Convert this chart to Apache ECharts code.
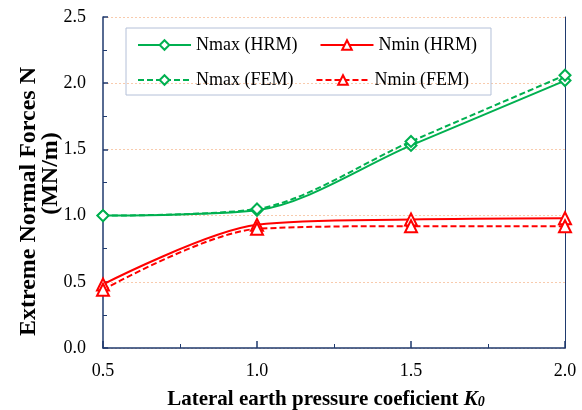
<!DOCTYPE html>
<html>
<head>
<meta charset="utf-8">
<script src="https://cdn.jsdelivr.net/npm/echarts@6/dist/echarts.min.js"></script>
<style>
  html, body { margin: 0; padding: 0; background: #fff; }
  #chart { width: 582px; height: 410px; }
</style>
</head>
<body>
<div id="chart"></div>
<script>
// lateral earth pressure coefficient K0
var k0 = [0.5, 1.0, 1.5, 2.0];
var nmaxHRM = [1.00, 1.04, 1.53, 2.02];
var nmaxFEM = [1.00, 1.05, 1.56, 2.06];
var nminHRM = [0.48, 0.93, 0.97, 0.98];
var nminFEM = [0.44, 0.90, 0.92, 0.92];
var yTicks = [0, 0.5, 1.0, 1.5, 2.0, 2.5];

function pairs(xs, ys) {
    var out = [];
    for (var i = 0; i < xs.length; i++) {
        out.push([xs[i], ys[i]]);
    }
    return out;
}

var font = '"Liberation Serif", "Times New Roman", serif';
var axisColor = '#1f3a6e';
var green = '#00b050';
var red = '#ff0000';

var myChart = echarts.init(document.getElementById('chart'), null, {renderer: 'canvas'});

function line(name, data, color, symbol, size, dashed) {
    return {
        name: name,
        type: 'line',
        smooth: 0.3,
        data: data,
        symbol: symbol,
        symbolSize: size,
        itemStyle: {color: color, borderWidth: 1.5},
        lineStyle: {color: color, width: 2, type: dashed ? [6, 3] : 'solid'}
    };
}

// legend text goes through rich text so the serif face is really used
var legendText = {
    fontFamily: font, fontSize: 18, color: '#000',
    rich: {t: {fontFamily: font, fontSize: 18, color: '#000'}}
};

var option = {
    backgroundColor: '#fff',
    animation: false,
    textStyle: {fontFamily: font},
    grid: {left: 103, right: 17, top: 17, bottom: 62, outerBoundsMode: 'none'},
    legend: [
        {
            left: 126, top: 28,
            padding: [8, 14, 41, 11],
            borderColor: '#b4c0d8', borderWidth: 1,
            itemWidth: 53, itemHeight: 12, itemGap: 22,
            formatter: '{t|{name}}',
            textStyle: legendText,
            data: ['Nmax (HRM)', 'Nmin (HRM)']
        },
        {
            left: 137, top: 71, padding: 0,
            itemWidth: 53, itemHeight: 12, itemGap: 22,
            formatter: '{t|{name}}',
            textStyle: legendText,
            data: ['Nmax (FEM)', 'Nmin (FEM)']
        }
    ],
    xAxis: {
        type: 'value',
        min: 0.5, max: 2.0, interval: 0.5,
        name: '{a|Lateral earth pressure coeficient }{k|K}{s|0}{p|}',
        nameLocation: 'middle',
        nameGap: 41,
        nameMoveOverlap: false,
        nameTextStyle: {
            rich: {
                a: {fontFamily: font, fontSize: 21, fontWeight: 'bold', color: '#000'},
                k: {fontFamily: font, fontSize: 21, fontWeight: 'bold', fontStyle: 'italic', color: '#000'},
                s: {fontFamily: font, fontSize: 14, fontWeight: 'bold', fontStyle: 'italic', color: '#000', padding: [6, 0, 0, 0]},
                p: {width: 16}
            }
        },
        axisLine: {lineStyle: {color: axisColor, width: 1.5}},
        axisTick: {inside: true, length: 7, lineStyle: {color: axisColor, width: 1.5}},
        minorTick: {show: true, splitNumber: 2, length: 4, lineStyle: {color: axisColor}},
        axisLabel: {
            fontFamily: font, fontSize: 18, color: '#000', margin: 14,
            formatter: function (v) { return v.toFixed(1); }
        },
        splitLine: {show: false}
    },
    yAxis: [
        {
            type: 'value',
            min: yTicks[0], max: yTicks[yTicks.length - 1], interval: 0.5,
            name: '{a|Extreme Normal Forces N}{p1|}\n{p2|}{a|(MN/m)}',
            nameLocation: 'middle',
            nameGap: 41,
            nameRotate: 90,
            nameMoveOverlap: false,
            nameTextStyle: {
                rich: {
                    a: {fontFamily: font, fontSize: 24, fontWeight: 'bold', color: '#000', lineHeight: 22},
                    p1: {width: 38, lineHeight: 22},
                    p2: {width: 18, lineHeight: 22}
                }
            },
            axisLine: {show: true, lineStyle: {color: axisColor, width: 1.5}},
            axisTick: {show: true, inside: true, length: 5, lineStyle: {color: axisColor, width: 1.5}},
            minorTick: {show: true, splitNumber: 2, length: 4, lineStyle: {color: axisColor}},
            axisLabel: {
                fontFamily: font, fontSize: 18, color: '#000', margin: 17,
                formatter: function (v) { return v.toFixed(1); }
            },
            splitLine: {show: true, lineStyle: {color: '#f8cbad', type: [2, 2], width: 1}}
        },
        {
            type: 'value',
            position: 'right',
            min: yTicks[0], max: yTicks[yTicks.length - 1], interval: 0.5,
            axisLine: {show: true, lineStyle: {color: axisColor, width: 1}},
            axisTick: {show: false},
            axisLabel: {show: false},
            splitLine: {show: false}
        }
    ],
    series: [
        line('Nmax (HRM)', pairs(k0, nmaxHRM), green, 'emptyDiamond', 11, false),
        line('Nmin (HRM)', pairs(k0, nminHRM), red, 'emptyTriangle', 12, false),
        line('Nmax (FEM)', pairs(k0, nmaxFEM), green, 'emptyDiamond', 11, true),
        line('Nmin (FEM)', pairs(k0, nminFEM), red, 'emptyTriangle', 12, true)
    ]
};

myChart.setOption(option);
</script>
</body>
</html>
